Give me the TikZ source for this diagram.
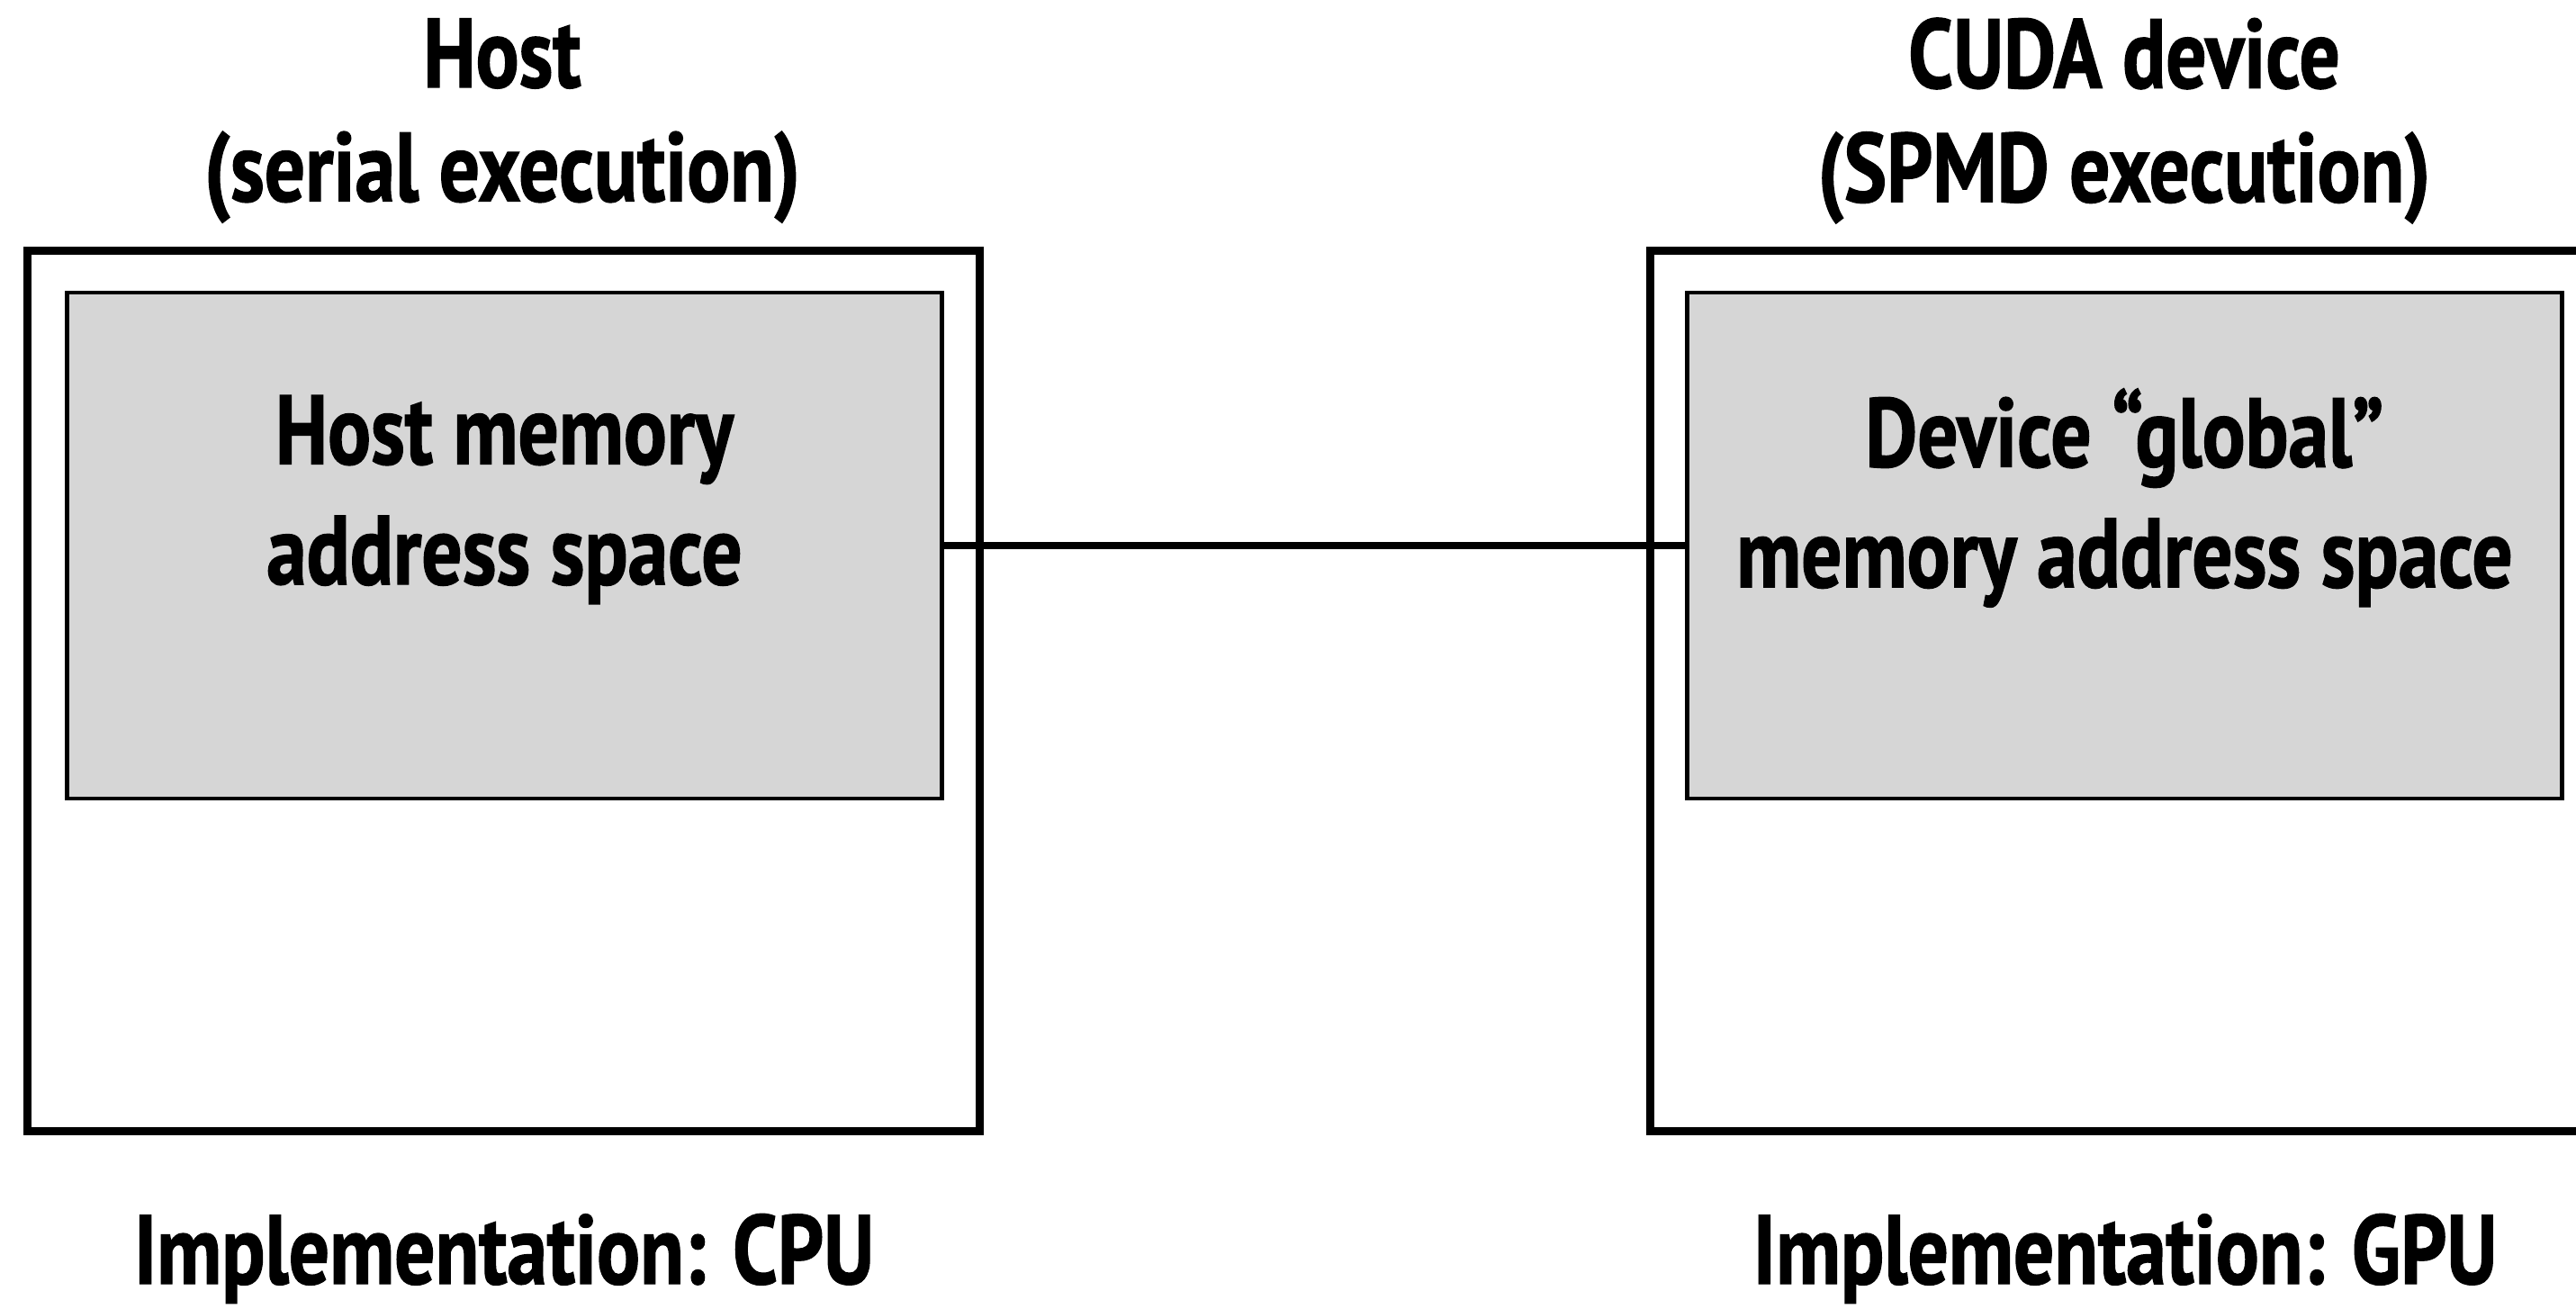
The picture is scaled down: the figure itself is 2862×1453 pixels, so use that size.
\documentclass[tikz,border=0pt]{standalone}
\usepackage{fontspec}
\setmainfont{PT Sans}[FakeStretch=0.82, BoldFeatures={FakeBold=1.2}]
\usepackage{tikz}
\usetikzlibrary{positioning}

\definecolor{memgray}{HTML}{D6D6D6}

\tikzset{
  outerbox/.style={draw=black, line width=2.6pt, minimum width=10.57cm,
    minimum height=9.77cm, inner sep=0pt},
  membox/.style={draw=black, line width=1.3pt, fill=memgray,
    minimum width=9.71cm, minimum height=5.62cm, inner sep=0pt},
  bigtext/.style={align=center, inner sep=0pt,
    font=\bfseries\fontsize{31}{36}\selectfont},
  memtext/.style={bigtext, font=\bfseries\fontsize{31}{38}\selectfont}
}

\begin{document}
\begin{tikzpicture}[x=0.01cm, y=-0.01cm]
        \useasboundingbox (0,0) rectangle (2862,1453);

        % host side
        \node[outerbox] (host) at (559.5, 767.5) {};
        \node[membox] (hostmem) at (560.5, 606) {};
        \node[memtext] (hostlbl) at (560.5, 555) {Host memory\\address space};
        \node[bigtext] (hosttitle) at (558, 134) {Host\\(serial execution)};
        \node[bigtext] (cpu) at (560, 1398) {Implementation: CPU};

        % device side
        \node[outerbox] (dev) at (2362.5, 767.5) {};
        \node[membox] (devmem) at (2360.5, 606) {};
        \node[memtext] (devlbl) at (2360.5, 553) {Device “global”\\memory address space};
        \node[bigtext] (devtitle) at (2360, 134) {CUDA device\\(SPMD execution)};
        \node[bigtext] (gpu) at (2361, 1398) {Implementation: GPU};

        % link between the two memories
        \draw[black, line width=2.3pt] (hostmem.east) -- (devmem.west);
\end{tikzpicture}
\end{document}
